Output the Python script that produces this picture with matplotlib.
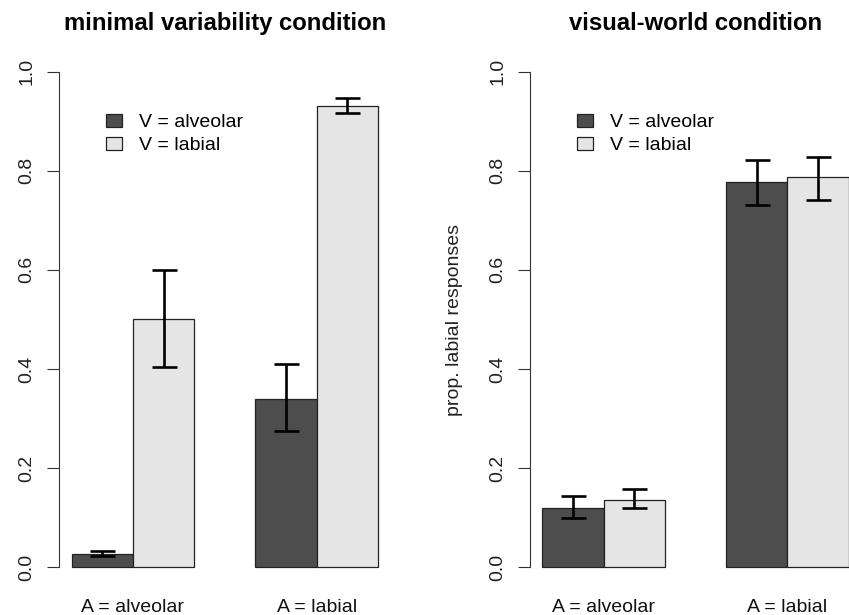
import numpy as np
import matplotlib
matplotlib.use("Agg")
import matplotlib.pyplot as plt
from matplotlib.patches import Patch

plt.rcParams['font.family'] = ['Liberation Sans', 'DejaVu Sans']

# Conditions (auditory) and visual series
categories = ["A = alveolar", "A = labial"]
series_names = ["V = alveolar", "V = labial"]
series_colors = ["#4d4d4d", "#e5e5e5"]

# minimal variability condition: means and error-bar limits
mv_alveolar = [0.027, 0.339]
mv_alveolar_lo = [0.024, 0.275]
mv_alveolar_hi = [0.034, 0.410]
mv_labial = [0.501, 0.931]
mv_labial_lo = [0.405, 0.916]
mv_labial_hi = [0.599, 0.946]

# visual-world condition
vw_alveolar = [0.120, 0.778]
vw_alveolar_lo = [0.100, 0.730]
vw_alveolar_hi = [0.145, 0.822]
vw_labial = [0.137, 0.788]
vw_labial_lo = [0.119, 0.741]
vw_labial_hi = [0.159, 0.828]

yticks = [0.0, 0.2, 0.4, 0.6, 0.8, 1.0]


def draw_panel(ax, title, means, los, his):
    # barplot(beside=TRUE, space=c(0,1)) layout: groups at 1-3 and 4-6
    group_left = np.array([1.0, 4.0])
    for i, (m, lo, hi) in enumerate(zip(means, los, his)):
        x = group_left + i + 0.5
        m = np.array(m)
        ax.bar(x, m, width=1.0, color=series_colors[i], edgecolor="#222222",
               linewidth=0.9, zorder=2)
        yerr = np.vstack([m - np.array(lo), np.array(hi) - m])
        ax.errorbar(x, m, yerr=yerr, fmt="none", ecolor="black",
                    elinewidth=1.9, capsize=9, capthick=1.9, zorder=3)

    ax.set_xlim(0.8, 6.2)
    ax.set_ylim(-0.04, 1.04)
    for s in ["top", "right", "bottom"]:
        ax.spines[s].set_visible(False)
    ax.spines["left"].set_bounds(0, 1)
    ax.spines["left"].set_color("#333333")
    ax.spines["left"].set_linewidth(0.8)
    ax.set_xticks([])
    ax.set_yticks(yticks)
    ax.set_yticklabels(["%.1f" % t for t in yticks], rotation=90,
                       va="center", fontsize=14, color="#222222")
    ax.tick_params(axis="y", length=9, width=0.8, color="#333333", pad=8)

    for gx, lab in zip(group_left + 1.0, categories):
        ax.text(gx, -0.089, lab, ha="center", va="baseline", fontsize=14,
                color="#111111", clip_on=False)

    ax.text(0.5, (587.3 - 30) / 535.6, title, transform=ax.transAxes,
            ha="center", va="baseline", fontsize=17.2, fontweight="bold")

    handles = [Patch(facecolor=c, edgecolor="#222222", linewidth=0.9)
               for c in series_colors]
    ax.legend(handles, series_names, loc="upper left",
              bbox_to_anchor=(0.142, 0.884), frameon=False, fontsize=14,
              handlelength=0.81, handleheight=0.64, handletextpad=0.89,
              labelspacing=0.30, borderpad=0, borderaxespad=0)


fig = plt.figure(figsize=(8.49, 6.15), dpi=100)
ax1 = fig.add_axes([59.3 / 849, 0.0450, 331 / 849, 0.8709])
ax2 = fig.add_axes([530 / 849, 0.0450, 331 / 849, 0.8709])

draw_panel(ax1, "minimal variability condition",
           [mv_alveolar, mv_labial],
           [mv_alveolar_lo, mv_labial_lo],
           [mv_alveolar_hi, mv_labial_hi])
draw_panel(ax2, "visual-world condition",
           [vw_alveolar, vw_labial],
           [vw_alveolar_lo, vw_labial_lo],
           [vw_alveolar_hi, vw_labial_hi])
ax2.set_ylabel("prop. labial responses", fontsize=14, color="#222222",
               labelpad=19)

fig.savefig("out.png", dpi=100)
